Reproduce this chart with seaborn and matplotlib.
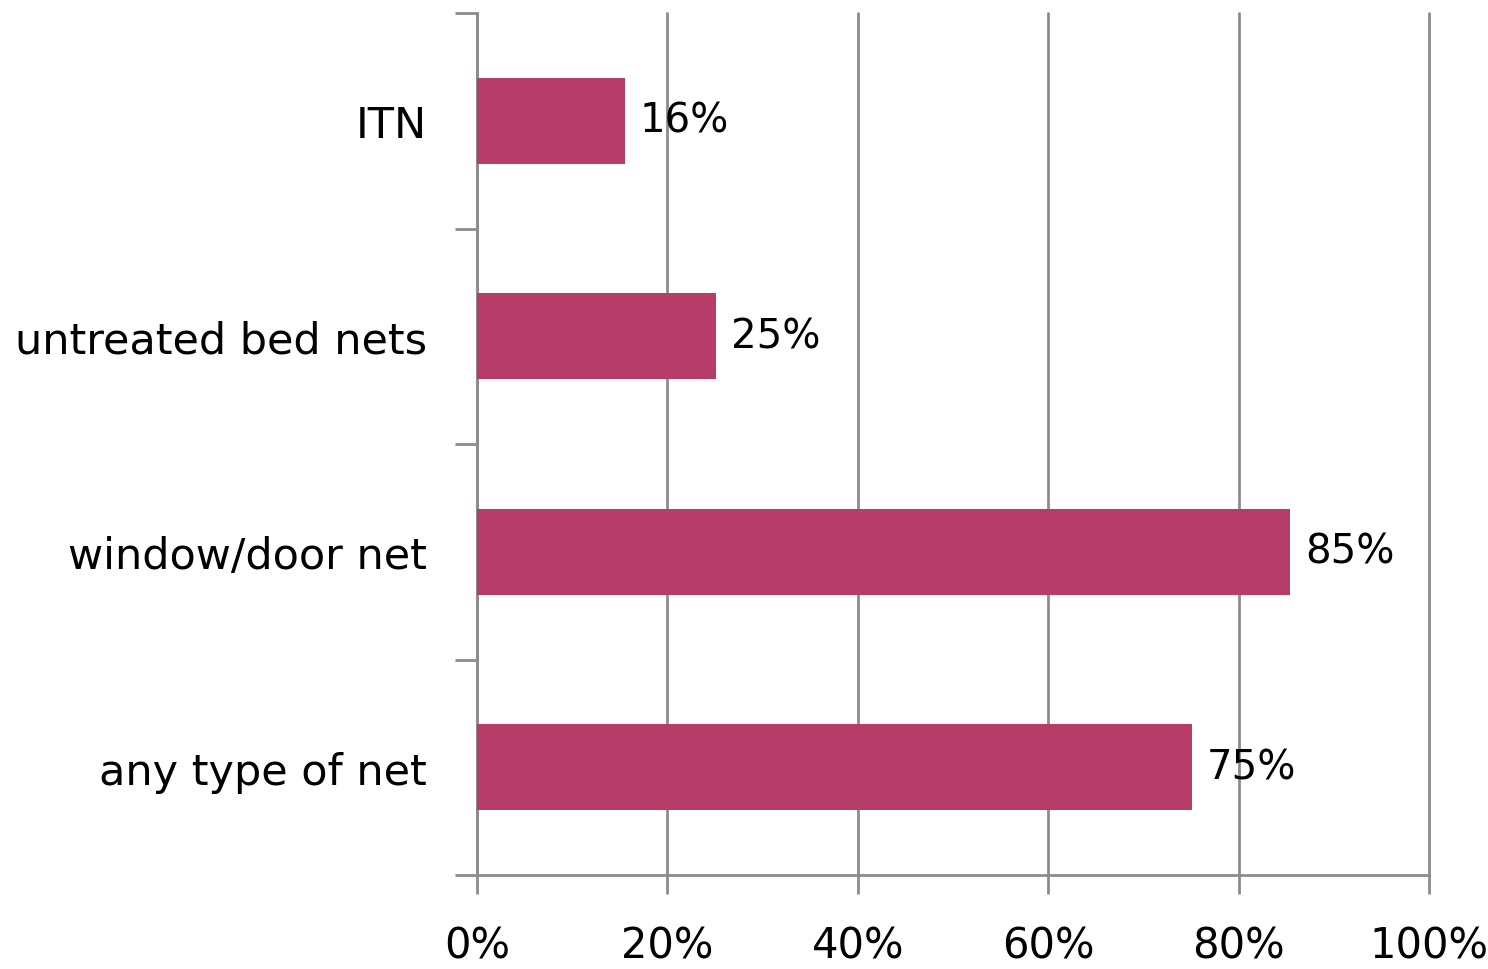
import numpy as np
import pandas as pd
import matplotlib
matplotlib.use("Agg")
import matplotlib.pyplot as plt
import seaborn as sns
from matplotlib.ticker import FixedLocator, PercentFormatter

# ---------- data ----------
categories = ["ITN", "untreated bed nets", "window/door net", "any type of net"]
values = [15.5, 25.1, 85.4, 75.1]
x_ticks = [0, 20, 40, 60, 80, 100]

df = pd.DataFrame({"category": categories, "value": values})

bar_color = "#B83C68"
grid_color = "#8C8C8C"

sns.set_theme(style="white")
plt.rcParams["font.family"] = ["DejaVu Sans"]
plt.rcParams["text.color"] = "black"
plt.rcParams["xtick.labelcolor"] = "black"
plt.rcParams["ytick.labelcolor"] = "black"

fig = plt.figure(figsize=(14.88, 9.70), dpi=100)
ax = fig.add_axes([477 / 1488, 1 - 876 / 970, (1429 - 477) / 1488, (876 - 14) / 970])

sns.barplot(data=df, y="category", x="value", color=bar_color, width=0.40,
            saturation=1, linewidth=0, ax=ax, zorder=3)

ax.set_xlim(0, 100)
ax.set_ylim(3.5, -0.5)
ax.set_xticks(x_ticks)
ax.xaxis.set_major_formatter(PercentFormatter(decimals=0))
ax.set_xlabel("")
ax.set_ylabel("")

ax.grid(axis="x", color=grid_color, linewidth=2, zorder=0)
ax.grid(axis="y", visible=False)
for gl in ax.get_xgridlines():
    gl.set_clip_on(False)

for side in ["top", "right"]:
    ax.spines[side].set_visible(False)
for side in ["left", "bottom"]:
    ax.spines[side].set_color(grid_color)
    ax.spines[side].set_linewidth(2)

ax.tick_params(axis="x", length=14, width=2, color=grid_color, labelsize=30,
               pad=22, direction="out", bottom=True)
ax.tick_params(axis="y", which="major", length=0, labelsize=31, pad=36)
ax.yaxis.set_minor_locator(FixedLocator(np.arange(-0.5, 4.0, 1.0)))
ax.tick_params(axis="y", which="minor", length=16, width=2, color=grid_color,
               direction="out", left=True)

for i, v in enumerate(values):
    ax.text(v + 1.6, i, f"{v:.0f}%", va="center", ha="left", fontsize=29,
            color="black", zorder=4)

fig.savefig("out.png", dpi=100)
